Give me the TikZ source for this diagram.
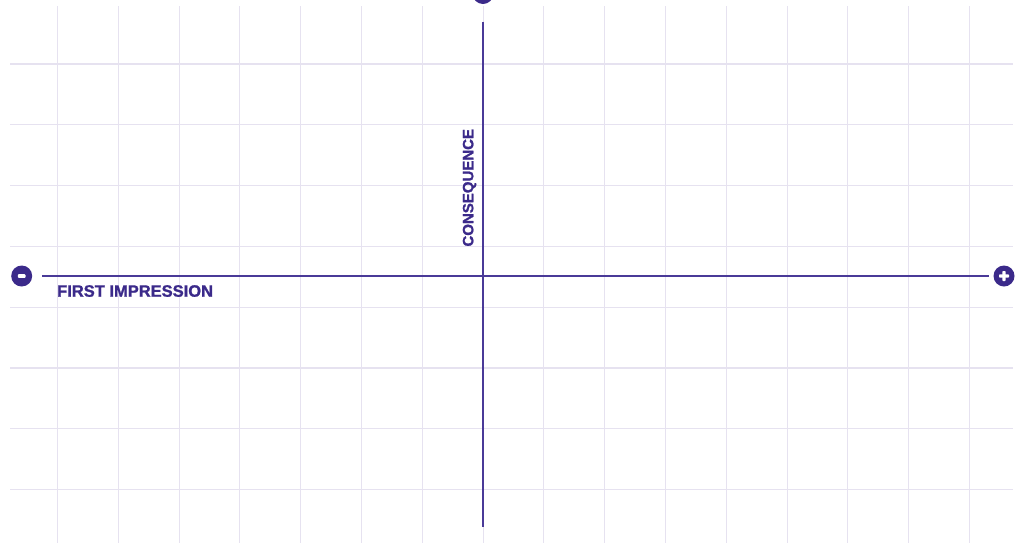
\documentclass[tikz,border=0pt]{standalone}
\usepackage{fontspec}
\setmainfont{Liberation Sans}
\newfontfamily\heavysans{Liberation Sans Bold}[FakeBold=1.2]
\definecolor{deepviolet}{HTML}{3B2A8A}
\definecolor{axisviolet}{HTML}{4A3A98}
\definecolor{gridlilac}{HTML}{E6E2F0}
\tikzset{
    gridline/.style={gridlilac, line width=1.1pt},
    axisline/.style={axisviolet, line width=1.5pt},
    endcap/.style={circle, fill=deepviolet, minimum size=21pt, inner sep=0pt},
    axislabel/.style={text=deepviolet, inner sep=0pt},
}

\begin{document}
\begin{tikzpicture}[x=1pt,y=-1pt]
        \useasboundingbox (0,0) rectangle (1022,550);

        % mřížka
        \foreach \gx in {0,...,15}
            \draw[gridline] (57.5+60.8*\gx,6) -- (57.5+60.8*\gx,543);
        \foreach \gy in {0,...,7}
            \draw[gridline] (10,64+60.8*\gy) -- (1013,64+60.8*\gy);

        % koncové body os
        \node[endcap] (minus) at (21.7,276) {};
        \node[endcap] (plus) at (1004,276) {};
        \node[endcap] (top) at (483,-6.5) {};
        \coordinate (bottom) at (483,527);

        \fill[white, rounded corners=0.8pt] (minus) ++(-3.8,-1.8) rectangle ++(7.6,3.6);
        \fill[white, rounded corners=0.8pt] (plus) ++(-5,-1.7) rectangle ++(10,3.4);
        \fill[white, rounded corners=0.8pt] (plus) ++(-1.7,-5) rectangle ++(3.4,10);

        % osy
        \draw[axisline, shorten <=10pt, shorten >=4.5pt] (minus) -- (plus);
        \draw[axisline, shorten <=17.5pt] (top) -- (bottom);

        % popisky
        \node[axislabel, anchor=base west, font=\heavysans\fontsize{16.5}{18}\selectfont]
            (xlabel) at (57,296.7) {FIRST IMPRESSION};
        \node[axislabel, anchor=base west, rotate=90, font=\heavysans\fontsize{15}{17}\selectfont]
            (ylabel) at (473.3,246.7) {CONSEQUENCE};
\end{tikzpicture}
\end{document}
